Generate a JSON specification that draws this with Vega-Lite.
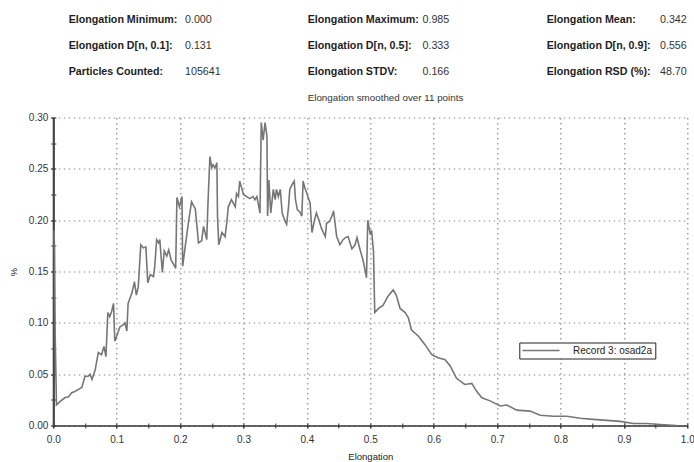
{
  "$schema": "https://vega.github.io/schema/vega-lite/v6.json",
  "width": 634,
  "height": 308,
  "autosize": {"type": "none"},
  "padding": {"left": 53.3, "top": 117.5, "right": 6.7, "bottom": 36.5},
  "background": "white",
  "config": {
    "font": "Liberation Sans",
    "view": {"stroke": null},
    "axis": {"labelFont": "Liberation Sans", "titleFont": "Liberation Sans"}
  },
  "datasets": {
    "dist": [
      {"elongation": 0.001, "pct": 0.190}, {"elongation": 0.002, "pct": 0.172}, {"elongation": 0.003, "pct": 0.087},
      {"elongation": 0.005, "pct": 0.020}, {"elongation": 0.010, "pct": 0.023}, {"elongation": 0.018, "pct": 0.027},
      {"elongation": 0.024, "pct": 0.028}, {"elongation": 0.029, "pct": 0.032}, {"elongation": 0.034, "pct": 0.033},
      {"elongation": 0.039, "pct": 0.035}, {"elongation": 0.045, "pct": 0.037}, {"elongation": 0.050, "pct": 0.048},
      {"elongation": 0.055, "pct": 0.048}, {"elongation": 0.058, "pct": 0.050}, {"elongation": 0.061, "pct": 0.045},
      {"elongation": 0.066, "pct": 0.054}, {"elongation": 0.071, "pct": 0.071}, {"elongation": 0.076, "pct": 0.069},
      {"elongation": 0.080, "pct": 0.077}, {"elongation": 0.083, "pct": 0.067}, {"elongation": 0.086, "pct": 0.110},
      {"elongation": 0.089, "pct": 0.106}, {"elongation": 0.092, "pct": 0.111}, {"elongation": 0.095, "pct": 0.119},
      {"elongation": 0.097, "pct": 0.082}, {"elongation": 0.100, "pct": 0.087}, {"elongation": 0.105, "pct": 0.096},
      {"elongation": 0.110, "pct": 0.098}, {"elongation": 0.113, "pct": 0.100}, {"elongation": 0.116, "pct": 0.092},
      {"elongation": 0.118, "pct": 0.119}, {"elongation": 0.124, "pct": 0.129}, {"elongation": 0.128, "pct": 0.140},
      {"elongation": 0.131, "pct": 0.127}, {"elongation": 0.134, "pct": 0.135}, {"elongation": 0.138, "pct": 0.176},
      {"elongation": 0.142, "pct": 0.173}, {"elongation": 0.146, "pct": 0.174}, {"elongation": 0.149, "pct": 0.139},
      {"elongation": 0.153, "pct": 0.147}, {"elongation": 0.158, "pct": 0.145}, {"elongation": 0.160, "pct": 0.155},
      {"elongation": 0.163, "pct": 0.181}, {"elongation": 0.166, "pct": 0.178}, {"elongation": 0.168, "pct": 0.181},
      {"elongation": 0.172, "pct": 0.149}, {"elongation": 0.175, "pct": 0.170}, {"elongation": 0.179, "pct": 0.165},
      {"elongation": 0.182, "pct": 0.171}, {"elongation": 0.186, "pct": 0.161}, {"elongation": 0.189, "pct": 0.158},
      {"elongation": 0.193, "pct": 0.153}, {"elongation": 0.195, "pct": 0.222}, {"elongation": 0.199, "pct": 0.213},
      {"elongation": 0.203, "pct": 0.223}, {"elongation": 0.204, "pct": 0.155}, {"elongation": 0.208, "pct": 0.174},
      {"elongation": 0.213, "pct": 0.197}, {"elongation": 0.218, "pct": 0.218}, {"elongation": 0.224, "pct": 0.211},
      {"elongation": 0.229, "pct": 0.178}, {"elongation": 0.234, "pct": 0.180}, {"elongation": 0.237, "pct": 0.194},
      {"elongation": 0.242, "pct": 0.181}, {"elongation": 0.244, "pct": 0.217}, {"elongation": 0.247, "pct": 0.262},
      {"elongation": 0.250, "pct": 0.251}, {"elongation": 0.252, "pct": 0.254}, {"elongation": 0.255, "pct": 0.251},
      {"elongation": 0.258, "pct": 0.256}, {"elongation": 0.259, "pct": 0.204}, {"elongation": 0.261, "pct": 0.176},
      {"elongation": 0.266, "pct": 0.188}, {"elongation": 0.271, "pct": 0.184}, {"elongation": 0.274, "pct": 0.200},
      {"elongation": 0.276, "pct": 0.213}, {"elongation": 0.281, "pct": 0.220}, {"elongation": 0.287, "pct": 0.213},
      {"elongation": 0.289, "pct": 0.226}, {"elongation": 0.292, "pct": 0.223}, {"elongation": 0.294, "pct": 0.238},
      {"elongation": 0.300, "pct": 0.225}, {"elongation": 0.305, "pct": 0.223}, {"elongation": 0.310, "pct": 0.221},
      {"elongation": 0.315, "pct": 0.223}, {"elongation": 0.318, "pct": 0.220}, {"elongation": 0.321, "pct": 0.223},
      {"elongation": 0.323, "pct": 0.217}, {"elongation": 0.326, "pct": 0.207}, {"elongation": 0.328, "pct": 0.295},
      {"elongation": 0.331, "pct": 0.278}, {"elongation": 0.334, "pct": 0.295}, {"elongation": 0.337, "pct": 0.282},
      {"elongation": 0.338, "pct": 0.204}, {"elongation": 0.340, "pct": 0.239}, {"elongation": 0.343, "pct": 0.207},
      {"elongation": 0.347, "pct": 0.230}, {"elongation": 0.350, "pct": 0.220}, {"elongation": 0.352, "pct": 0.230},
      {"elongation": 0.355, "pct": 0.223}, {"elongation": 0.358, "pct": 0.230}, {"elongation": 0.361, "pct": 0.207},
      {"elongation": 0.365, "pct": 0.200}, {"elongation": 0.368, "pct": 0.196}, {"elongation": 0.371, "pct": 0.213},
      {"elongation": 0.373, "pct": 0.230}, {"elongation": 0.377, "pct": 0.235}, {"elongation": 0.380, "pct": 0.238},
      {"elongation": 0.382, "pct": 0.220}, {"elongation": 0.385, "pct": 0.210}, {"elongation": 0.389, "pct": 0.208},
      {"elongation": 0.392, "pct": 0.204}, {"elongation": 0.394, "pct": 0.238}, {"elongation": 0.397, "pct": 0.231},
      {"elongation": 0.400, "pct": 0.226}, {"elongation": 0.402, "pct": 0.222}, {"elongation": 0.405, "pct": 0.217},
      {"elongation": 0.408, "pct": 0.188}, {"elongation": 0.412, "pct": 0.200}, {"elongation": 0.415, "pct": 0.207},
      {"elongation": 0.419, "pct": 0.200}, {"elongation": 0.423, "pct": 0.192}, {"elongation": 0.426, "pct": 0.188},
      {"elongation": 0.429, "pct": 0.184}, {"elongation": 0.431, "pct": 0.197}, {"elongation": 0.436, "pct": 0.199},
      {"elongation": 0.440, "pct": 0.205}, {"elongation": 0.442, "pct": 0.209}, {"elongation": 0.447, "pct": 0.184},
      {"elongation": 0.452, "pct": 0.176}, {"elongation": 0.457, "pct": 0.181}, {"elongation": 0.461, "pct": 0.183},
      {"elongation": 0.465, "pct": 0.184}, {"elongation": 0.471, "pct": 0.172}, {"elongation": 0.476, "pct": 0.176},
      {"elongation": 0.479, "pct": 0.183}, {"elongation": 0.484, "pct": 0.171}, {"elongation": 0.489, "pct": 0.160},
      {"elongation": 0.494, "pct": 0.144}, {"elongation": 0.496, "pct": 0.200}, {"elongation": 0.500, "pct": 0.186},
      {"elongation": 0.502, "pct": 0.190}, {"elongation": 0.505, "pct": 0.170}, {"elongation": 0.507, "pct": 0.110},
      {"elongation": 0.513, "pct": 0.114}, {"elongation": 0.520, "pct": 0.117}, {"elongation": 0.528, "pct": 0.126},
      {"elongation": 0.536, "pct": 0.132}, {"elongation": 0.541, "pct": 0.127}, {"elongation": 0.547, "pct": 0.114},
      {"elongation": 0.555, "pct": 0.110}, {"elongation": 0.560, "pct": 0.105}, {"elongation": 0.565, "pct": 0.093},
      {"elongation": 0.576, "pct": 0.087}, {"elongation": 0.586, "pct": 0.079}, {"elongation": 0.597, "pct": 0.069},
      {"elongation": 0.607, "pct": 0.066}, {"elongation": 0.618, "pct": 0.064}, {"elongation": 0.626, "pct": 0.058},
      {"elongation": 0.636, "pct": 0.046}, {"elongation": 0.649, "pct": 0.040}, {"elongation": 0.660, "pct": 0.041},
      {"elongation": 0.668, "pct": 0.033}, {"elongation": 0.676, "pct": 0.027}, {"elongation": 0.689, "pct": 0.024},
      {"elongation": 0.705, "pct": 0.019}, {"elongation": 0.715, "pct": 0.020}, {"elongation": 0.731, "pct": 0.015},
      {"elongation": 0.752, "pct": 0.014}, {"elongation": 0.768, "pct": 0.010}, {"elongation": 0.789, "pct": 0.009},
      {"elongation": 0.810, "pct": 0.009}, {"elongation": 0.831, "pct": 0.007}, {"elongation": 0.852, "pct": 0.006},
      {"elongation": 0.873, "pct": 0.005}, {"elongation": 0.894, "pct": 0.004}, {"elongation": 0.915, "pct": 0.002},
      {"elongation": 0.936, "pct": 0.002}, {"elongation": 0.957, "pct": 0.001}, {"elongation": 0.983, "pct": 0.000}
    ],
    "stats": [
      {"label": "Elongation Minimum:", "value": "0.000", "col": 0, "row": 0},
      {"label": "Elongation Maximum:", "value": "0.985", "col": 1, "row": 0},
      {"label": "Elongation Mean:", "value": "0.342", "col": 2, "row": 0},
      {"label": "Elongation D[n, 0.1]:", "value": "0.131", "col": 0, "row": 1},
      {"label": "Elongation D[n, 0.5]:", "value": "0.333", "col": 1, "row": 1},
      {"label": "Elongation D[n, 0.9]:", "value": "0.556", "col": 2, "row": 1},
      {"label": "Particles Counted:", "value": "105641", "col": 0, "row": 2},
      {"label": "Elongation STDV:", "value": "0.166", "col": 1, "row": 2},
      {"label": "Elongation RSD (%):", "value": "48.70", "col": 2, "row": 2}
    ],
    "note": [
      {"text": "Elongation smoothed over 11 points", "col": 1, "row": 3}
    ]
  },
  "resolve": {
    "scale": {"x": "independent", "y": "independent"},
    "axis": {"x": "independent", "y": "independent"}
  },
  "layer": [
    {
      "data": {"name": "dist"},
      "mark": {"type": "point", "opacity": 0, "size": 0},
      "encoding": {
        "x": {
          "field": "elongation", "type": "quantitative",
          "scale": {"domain": [0, 1], "nice": false, "zero": false},
          "axis": {
            "orient": "bottom", "offset": -2.5,
            "values": [0, 0.05, 0.1, 0.15, 0.2, 0.25, 0.3, 0.35, 0.4, 0.45, 0.5, 0.55, 0.6, 0.65, 0.7, 0.75, 0.8, 0.85, 0.9, 0.95, 1],
            "domain": false, "labels": false, "grid": false, "title": null,
            "ticks": true, "tickSize": 5, "tickColor": "#333", "tickWidth": 1
          }
        },
        "y": {
          "field": "pct", "type": "quantitative",
          "scale": {"domain": [0, 0.3], "nice": false, "zero": false},
          "axis": {
            "orient": "left", "offset": -2.5,
            "values": [0, 0.025, 0.05, 0.075, 0.1, 0.125, 0.15, 0.175, 0.2, 0.225, 0.25, 0.275, 0.3],
            "domain": false, "labels": false, "grid": false, "title": null,
            "ticks": true, "tickSize": 5, "tickColor": "#333", "tickWidth": 1
          }
        }
      }
    },
    {
      "data": {"name": "dist"},
      "mark": {"type": "line", "color": "#767676", "strokeWidth": 1.6, "interpolate": "linear"},
      "encoding": {
        "x": {
          "field": "elongation", "type": "quantitative",
          "scale": {"domain": [0, 1], "nice": false, "zero": false},
          "axis": {
            "orient": "bottom",
            "values": [0, 0.1, 0.2, 0.3, 0.4, 0.5, 0.6, 0.7, 0.8, 0.9, 1],
            "format": ".1f",
            "grid": true, "gridColor": "#8a8a8a", "gridDash": [1.5, 3.5], "gridWidth": 1.2,
            "domain": true, "domainColor": "#333", "domainWidth": 1.6,
            "ticks": true, "tickSize": 2.5, "tickColor": "#333",
            "labelPadding": 6, "labelFontSize": 10, "labelColor": "#333", "labelFlush": false,
            "title": "Elongation", "titleFontSize": 9.5, "titleFontWeight": "normal", "titleColor": "#222", "titlePadding": 7
          }
        },
        "y": {
          "field": "pct", "type": "quantitative",
          "scale": {"domain": [0, 0.3], "nice": false, "zero": false},
          "axis": {
            "orient": "left",
            "values": [0, 0.05, 0.1, 0.15, 0.2, 0.25, 0.3],
            "format": ".2f",
            "grid": true, "gridColor": "#8a8a8a", "gridDash": [1.5, 3.5], "gridWidth": 1.2,
            "domain": true, "domainColor": "#444", "domainWidth": 2.2,
            "ticks": true, "tickSize": 2.5, "tickColor": "#333",
            "labelPadding": 3, "labelFontSize": 10, "labelColor": "#333", "labelFlush": false,
            "title": "%", "titleFontSize": 9.5, "titleFontWeight": "normal", "titleColor": "#222", "titlePadding": 10
          }
        },
        "color": {
          "datum": "Record 3: osad2a", "type": "nominal",
          "scale": {"range": ["#767676"]},
          "legend": {
            "orient": "none", "legendX": 466, "legendY": 225,
            "title": null, "strokeColor": "#222", "fillColor": "white", "padding": 3,
            "symbolType": "M-5,0H5", "symbolSize": 54.76, "symbolStrokeWidth": 1.5, "symbolOffset": 13.75,
            "labelFont": "Liberation Sans", "labelFontSize": 10, "labelColor": "#222", "labelOffset": 27
          }
        }
      }
    },
    {
      "data": {"name": "stats"},
      "mark": {"type": "text", "align": "left", "baseline": "middle", "font": "Liberation Sans", "fontWeight": "bold", "fontSize": 10.7, "color": "#1e1e1e"},
      "encoding": {
        "x": {"field": "col", "type": "quantitative", "scale": {"domain": [-0.0644, 2.5883], "nice": false, "zero": false}, "axis": null},
        "y": {"field": "row", "type": "quantitative", "scale": {"domain": [3.732, 15.465], "reverse": true, "nice": false, "zero": false}, "axis": null},
        "text": {"field": "label"}
      }
    },
    {
      "data": {"name": "stats"},
      "mark": {"type": "text", "align": "left", "baseline": "middle", "font": "Liberation Sans", "fontSize": 10.7, "color": "#333"},
      "encoding": {
        "x": {"field": "col", "type": "quantitative", "scale": {"domain": [-0.5545, 2.1150], "nice": false, "zero": false}, "axis": null},
        "y": {"field": "row", "type": "quantitative", "scale": {"domain": [3.732, 15.465], "reverse": true, "nice": false, "zero": false}, "axis": null},
        "text": {"field": "value"}
      }
    },
    {
      "data": {"name": "note"},
      "mark": {"type": "text", "align": "left", "baseline": "middle", "font": "Liberation Sans", "fontSize": 9.8, "color": "#333"},
      "encoding": {
        "x": {"field": "col", "type": "quantitative", "scale": {"domain": [-0.0644, 2.5883], "nice": false, "zero": false}, "axis": null},
        "y": {"field": "row", "type": "quantitative", "scale": {"domain": [3.732, 15.465], "reverse": true, "nice": false, "zero": false}, "axis": null},
        "text": {"field": "text"}
      }
    }
  ]
}
